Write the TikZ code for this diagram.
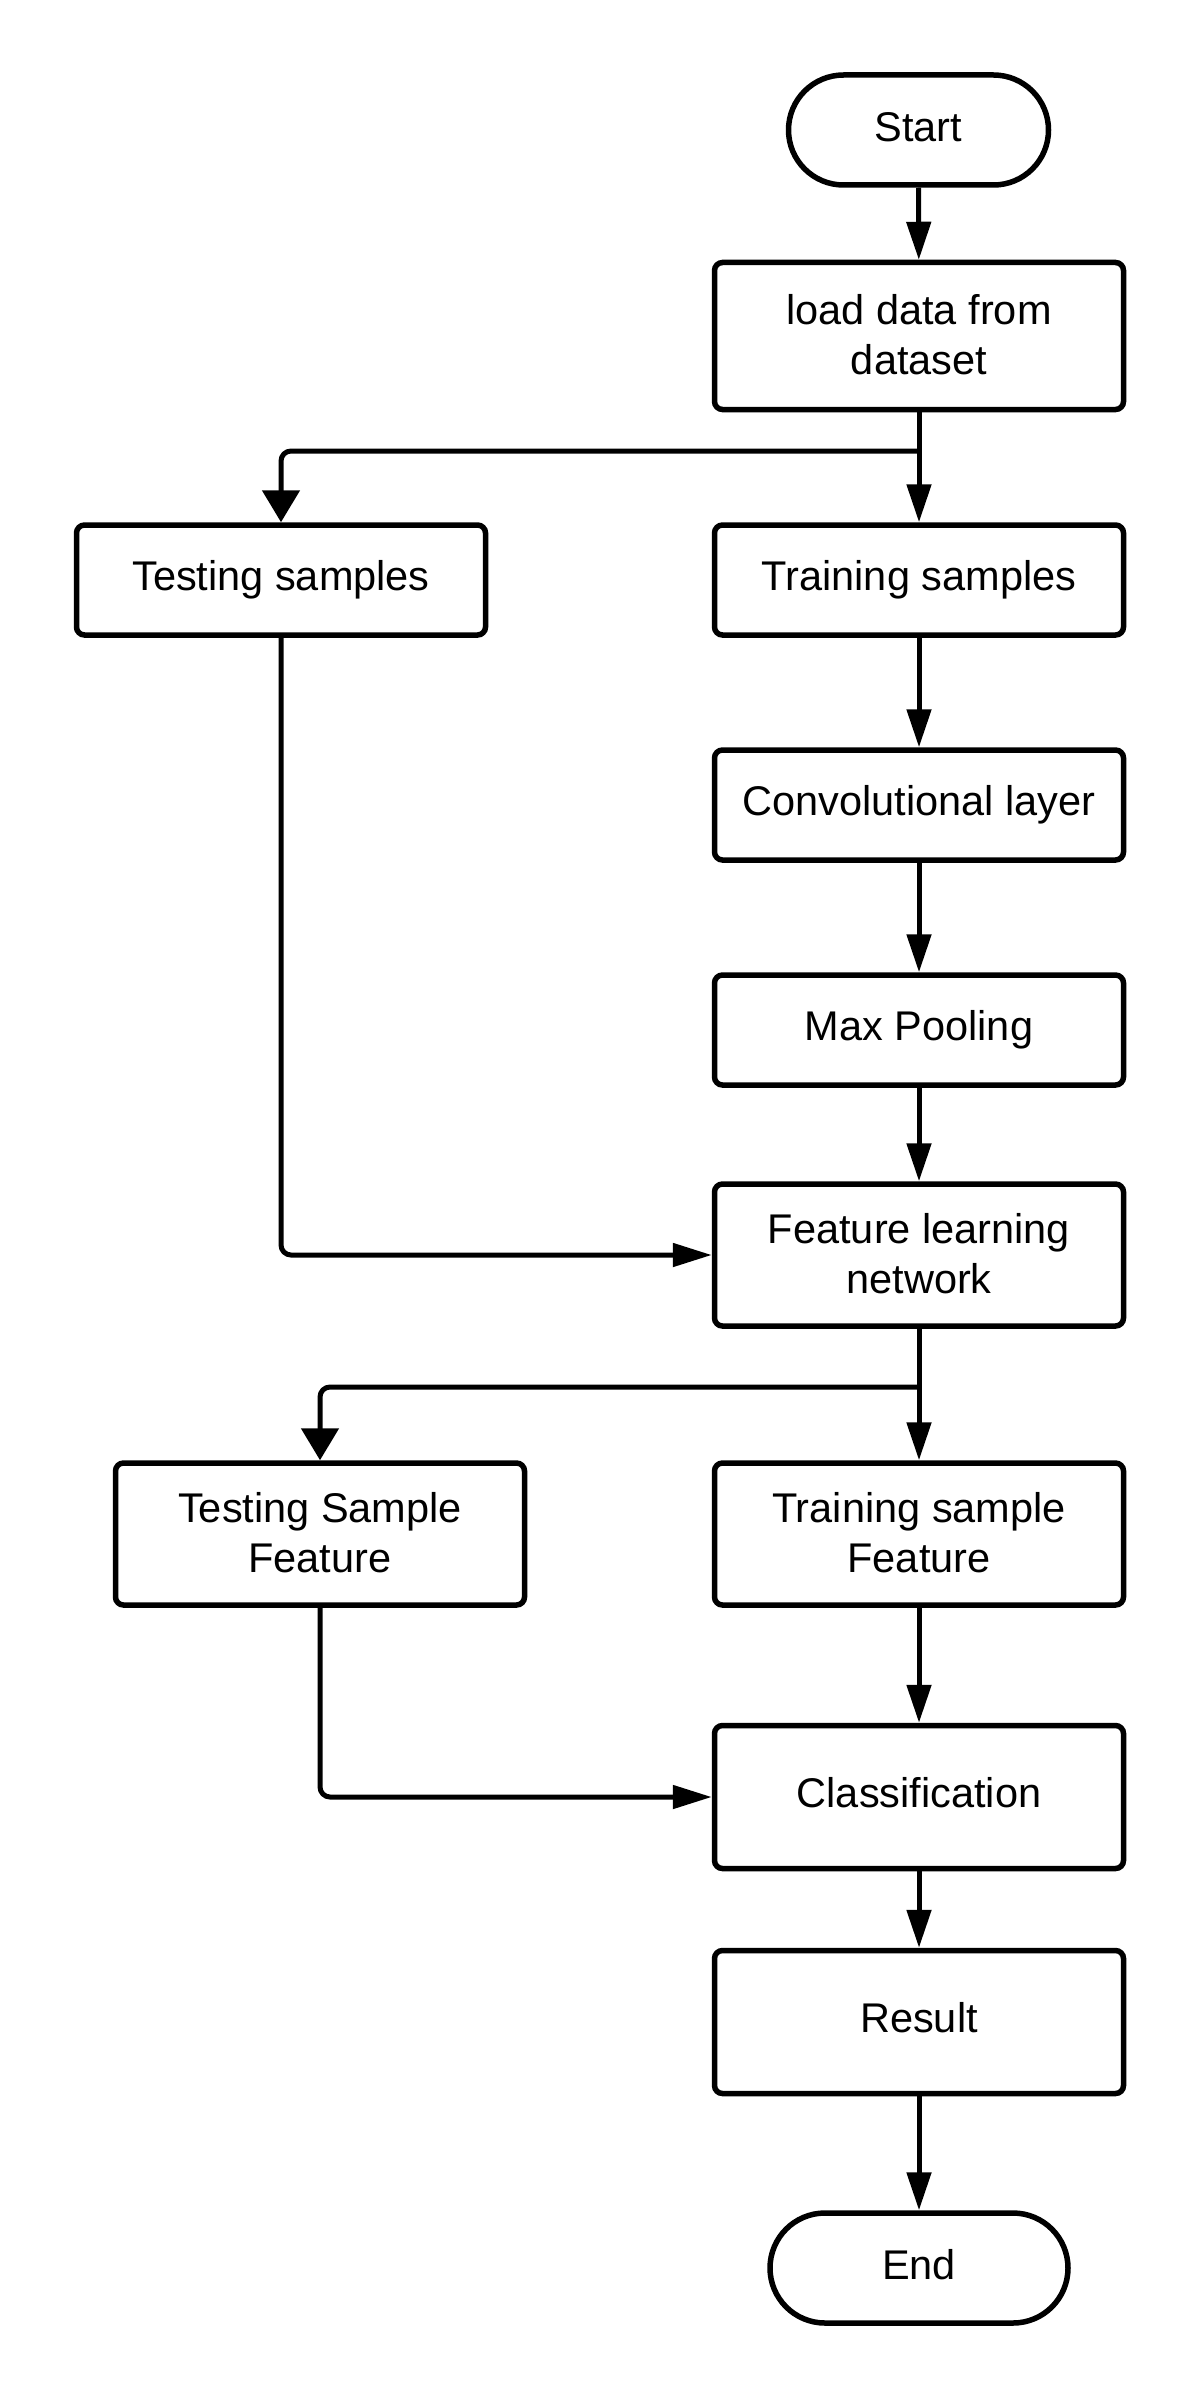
\documentclass[tikz,border=0pt]{standalone}
\usepackage{fontspec}
\setmainfont{Liberation Sans}
\usetikzlibrary{arrows.meta,positioning}
\begin{document}
\begin{tikzpicture}[x=1pt,y=-1pt,
  box/.style={draw=black,line width=5.5pt,rounded corners=8pt,minimum width=409pt,
    align=center,inner sep=0pt,font=\fontsize{41.5}{50}\selectfont},
  term/.style={draw=black,line width=5.5pt,rounded corners=55pt,align=center,inner sep=0pt,
    font=\fontsize{41.5}{50}\selectfont},
  oneline/.style={text height=30pt,text depth=10pt},
  termline/.style={text height=30pt,text depth=7pt},
  twoline/.style={text depth=3pt},
  conn/.style={draw=black,line width=5pt,rounded corners=10pt,-{Triangle[length=38pt,width=24pt]}},
  bconn/.style={draw=black,line width=5pt,rounded corners=10pt,-{Triangle[length=32pt,width=37pt]}},
  hconn/.style={draw=black,line width=5pt,rounded corners=10pt,-{Triangle[length=39pt,width=23pt]}}
]
\useasboundingbox (0,0) rectangle (1200,2400);
\node[term,termline,minimum width=260pt,minimum height=110pt] (start) at (918.5,130) {Start};
\node[box,twoline,minimum height=147pt] (load) at (919,336) {load data from\\dataset};
\node[box,oneline,minimum height=110pt] (test) at (281,580) {Testing samples};
\node[box,oneline,minimum height=110pt] (train) at (919,580) {Training samples};
\node[box,oneline,minimum height=110pt] (conv) at (919,805) {Convolutional layer};
\node[box,oneline,minimum height=110pt] (pool) at (919,1030) {Max Pooling};
\node[box,twoline,minimum height=142pt] (feat) at (919,1255) {Feature learning\\network};
\node[box,twoline,minimum height=142pt] (tsf) at (320,1534) {Testing Sample\\Feature};
\node[box,twoline,minimum height=142pt] (trsf) at (919,1534) {Training sample\\Feature};
\node[box,oneline,minimum height=143pt] (cls) at (919,1797) {Classification};
\node[box,oneline,minimum height=143pt] (res) at (919,2022) {Result};
\node[term,termline,minimum width=298pt,minimum height=110pt] (end) at (919,2268) {End};
\coordinate (b1) at (919,451);
\coordinate (b2) at (919,1387);
\draw[conn] (start) -- (load);
\draw[conn] (load) -- (train);
\draw[bconn] (b1) -| (test.north);
\draw[conn] (train) -- (conv);
\draw[conn] (conv) -- (pool);
\draw[conn] (pool) -- (feat);
\draw[hconn] (test.south) |- (feat.west);
\draw[conn] (feat) -- (trsf);
\draw[bconn] (b2) -| (tsf.north);
\draw[hconn] (tsf.south) |- (cls.west);
\draw[conn] (trsf) -- (cls);
\draw[conn] (cls) -- (res);
\draw[conn] (res) -- (end);
\end{tikzpicture}
\end{document}
